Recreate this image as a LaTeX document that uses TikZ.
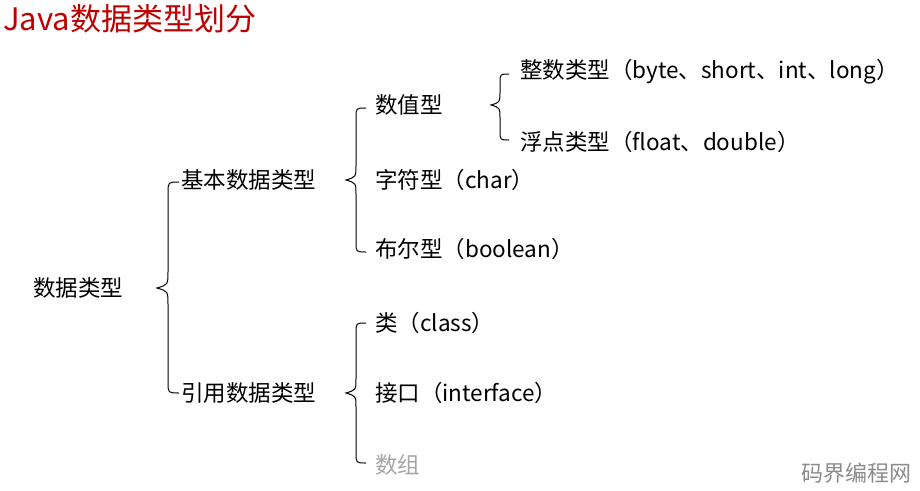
\documentclass[tikz,border=0pt]{standalone}
\usepackage{fontspec}
\setmainfont{Noto Sans CJK SC}
\begin{document}
\begin{tikzpicture}[x=1pt,y=-1pt,
  lbl/.style={anchor=west,inner sep=0pt,font=\fontsize{22.5}{26}\selectfont},
  brc/.style={line width=1pt,black}]
\useasboundingbox (0,0) rectangle (920,490);
\fill[white] (0,0) rectangle (920,490);
\node[anchor=west,inner sep=0pt,text=red!75!black,font=\fontsize{31}{34}\selectfont] (title) at (3,19) {Java数据类型划分};
\node[lbl] (root) at (33,288) {数据类型};
\node[lbl] (basic) at (181,180) {基本数据类型};
\node[lbl] (ref) at (181,393) {引用数据类型};
\node[lbl] (num) at (375,105) {数值型};
\node[lbl] (chr) at (375,180) {字符型（char）};
\node[lbl] (bool) at (375,249) {布尔型（boolean）};
\node[lbl] (int) at (520,72) {整数类型（byte、short、int、long）};
\node[lbl] (flt) at (520,142) {浮点类型（float、double）};
\node[lbl] (cls) at (375,323) {类（class）};
\node[lbl] (ifc) at (375,393) {接口（interface）};
\node[lbl,text=black!35] (arr) at (375,465) {数组};
\node[anchor=south east,inner sep=0pt,text=black!45,font=\fontsize{22}{26}\selectfont] (wm) at (912,484) {码界编程网};
\newcommand{\mybrace}[5]{%
  \draw[brc] ({#1+#5},#2) .. controls (#1,#2) .. (#1,{#2+#5})
    -- (#1,{#3-1.5*#5}) .. controls (#1,{#3-0.3*#5}) .. ({#1-#5},#3)
    .. controls (#1,{#3+0.3*#5}) .. (#1,{#3+1.5*#5})
    -- (#1,{#4-#5}) .. controls (#1,#4) .. ({#1+#5},#4);}
\mybrace{168}{182}{288}{393}{11}
\mybrace{356}{108}{180}{252}{10}
\mybrace{500}{74}{105}{140}{9}
\mybrace{356}{323}{393}{463}{10}
\end{tikzpicture}
\end{document}
